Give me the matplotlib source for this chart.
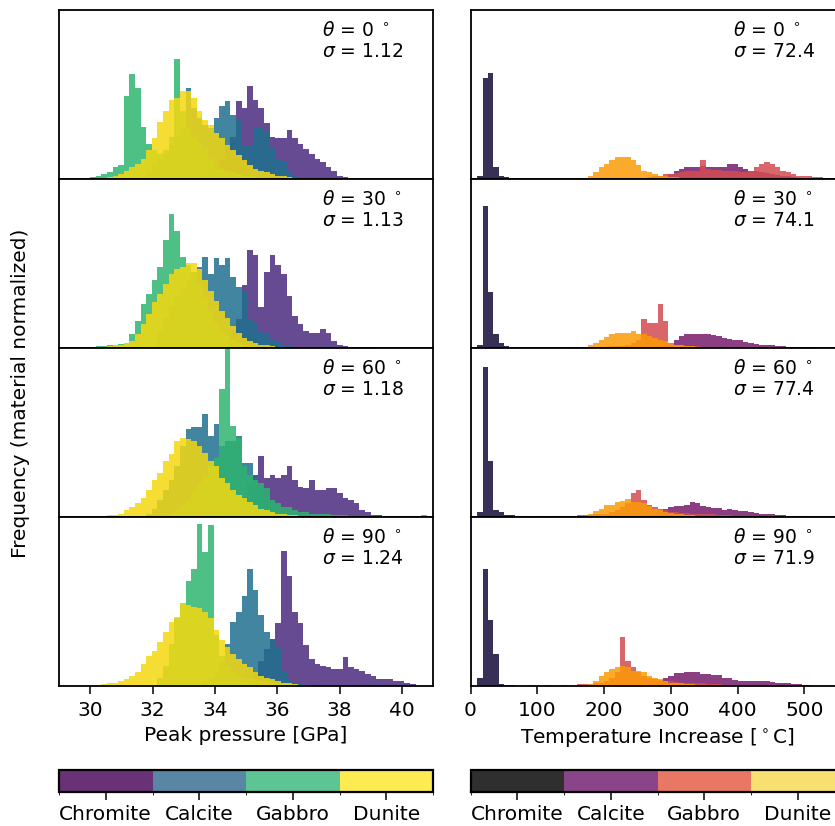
import numpy as np
import matplotlib.pyplot as plt
from matplotlib.colors import ListedColormap, BoundaryNorm
from matplotlib.cm import ScalarMappable

materials = ["Chromite", "Calcite", "Gabbro", "Dunite"]
angles = [0, 30, 60, 90]
sigma_pressure = [1.12, 1.13, 1.18, 1.24]
sigma_temperature = [72.4, 74.1, 77.4, 71.9]

# histogram bin grids (left edge of bin 0, bin width)
p_edge0, p_width = 30.0, 0.18
t_edge0, t_width = 0.0, 8.0
chromite_t_edge0 = 10.0

# ---- Peak pressure, heights per bin (fraction of panel height), (start bin, values)
p0_chromite = (20, [0.03, 0.05, 0.08, 0.12, 0.20, 0.25, 0.46, 0.42, 0.55, 0.47, 0.42, 0.33, 0.25,
                    0.24, 0.24, 0.29, 0.24, 0.21, 0.18, 0.15, 0.12, 0.10, 0.07, 0.05, 0.02, 0.01])
p0_calcite = (10, [0.05, 0.08, 0.12, 0.15, 0.20, 0.25, 0.30, 0.54, 0.42, 0.36, 0.32, 0.30, 0.36, 0.43,
                   0.46, 0.38, 0.35, 0.20, 0.20, 0.30, 0.30, 0.28, 0.19, 0.12, 0.10, 0.05, 0.02, 0.01])
p0_gabbro = (0, [0.01, 0.02, 0.03, 0.04, 0.07, 0.08, 0.49, 0.62, 0.54, 0.31, 0.21, 0.17, 0.15, 0.17, 0.25,
                 0.71, 0.40, 0.30, 0.25, 0.22, 0.18, 0.12, 0.08, 0.06, 0.05, 0.04, 0.03, 0.02, 0.02, 0.01])
p0_dunite = (3, [0.01, 0.02, 0.03, 0.05, 0.07, 0.09, 0.12, 0.17, 0.24, 0.34, 0.40, 0.47, 0.48, 0.52, 0.52,
                 0.48, 0.40, 0.35, 0.32, 0.27, 0.24, 0.20, 0.17, 0.14, 0.11, 0.08, 0.06, 0.05, 0.04, 0.03,
                 0.02, 0.015, 0.01, 0.005])

p1_chromite = (24, [0.05, 0.10, 0.17, 0.37, 0.58, 0.55, 0.24, 0.45, 0.55, 0.49, 0.44, 0.31, 0.19, 0.14,
                    0.10, 0.09, 0.09, 0.11, 0.09, 0.04, 0.02, 0.01, 0.005, 0.005, 0.005, 0.005, 0.005])
p1_calcite = (12, [0.10, 0.18, 0.25, 0.30, 0.35, 0.40, 0.45, 0.48, 0.54, 0.44, 0.53, 0.49, 0.53, 0.42,
                   0.36, 0.33, 0.17, 0.15, 0.10, 0.08, 0.05, 0.04, 0.02, 0.01])
p1_gabbro = (0, [0.005, 0.01, 0.01, 0.015, 0.02, 0.025, 0.03, 0.08, 0.16, 0.26, 0.32, 0.40, 0.48, 0.64,
                 0.79, 0.69, 0.54, 0.49, 0.45, 0.38, 0.30, 0.22, 0.15, 0.10, 0.07, 0.05, 0.03, 0.02, 0.01])
p1_dunite = (0, [0.002, 0.005, 0.008, 0.01, 0.015, 0.02, 0.03, 0.04, 0.08, 0.14, 0.20, 0.27, 0.32, 0.38,
                 0.44, 0.47, 0.48, 0.50, 0.50, 0.47, 0.40, 0.34, 0.28, 0.22, 0.18, 0.13, 0.09, 0.06, 0.04,
                 0.03, 0.02, 0.015, 0.01, 0.005, 0.005, 0.005])

p2_chromite = (24, [0.02, 0.03, 0.06, 0.12, 0.20, 0.25, 0.36, 0.23, 0.25, 0.23, 0.25, 0.30, 0.22, 0.18,
                    0.17, 0.22, 0.16, 0.16, 0.17, 0.17, 0.14, 0.11, 0.10, 0.08, 0.04, 0.03, 0.01, 0.01, 0.005])
p2_calcite = (10, [0.02, 0.05, 0.10, 0.16, 0.22, 0.30, 0.42, 0.52, 0.53, 0.53, 0.61, 0.48, 0.55, 0.42,
                   0.45, 0.45, 0.48, 0.32, 0.32, 0.25, 0.17, 0.12, 0.08, 0.05, 0.03, 0.02])
p2_gabbro = (14, [0.02, 0.04, 0.07, 0.10, 0.15, 0.20, 0.24, 0.30, 0.35, 0.76, 1.00, 0.54, 0.47, 0.30,
                  0.25, 0.22, 0.20, 0.17, 0.10, 0.08, 0.06, 0.06, 0.04, 0.03, 0.03, 0.02, 0.02, 0.02,
                  0.015, 0.01, 0.01, 0.01, 0.005, 0.005, 0.005, 0.005, 0.005, 0.005, 0.005, 0.005,
                  0.005, 0.005, 0.005, 0.005, 0.005, 0.01])
p2_dunite = (0, [0.003, 0.005, 0.008, 0.01, 0.01, 0.02, 0.04, 0.06, 0.08, 0.11, 0.16, 0.22, 0.26, 0.33,
                 0.37, 0.45, 0.47, 0.46, 0.45, 0.42, 0.38, 0.33, 0.30, 0.23, 0.20, 0.16, 0.13, 0.11, 0.09,
                 0.07, 0.05, 0.04, 0.03, 0.02, 0.015, 0.01, 0.01, 0.005])

p3_chromite = (28, [0.03, 0.08, 0.15, 0.22, 0.28, 0.37, 0.80, 0.65, 0.44, 0.37, 0.24, 0.16, 0.13, 0.12,
                    0.11, 0.10, 0.10, 0.17, 0.11, 0.10, 0.09, 0.07, 0.06, 0.04, 0.04, 0.04, 0.03, 0.03,
                    0.02, 0.01])
p3_calcite = (20, [0.03, 0.05, 0.08, 0.14, 0.25, 0.38, 0.44, 0.53, 0.69, 0.57, 0.42, 0.32, 0.28, 0.23,
                   0.08, 0.04, 0.02, 0.01])
p3_gabbro = (12, [0.05, 0.12, 0.25, 0.40, 0.49, 0.62, 0.69, 0.96, 0.79, 0.95, 0.30, 0.18, 0.12, 0.08,
                  0.06, 0.05, 0.04, 0.04, 0.03, 0.03, 0.02, 0.02, 0.015, 0.01, 0.01, 0.008, 0.005, 0.005])
p3_dunite = (0, [0.003, 0.005, 0.01, 0.015, 0.02, 0.03, 0.04, 0.06, 0.08, 0.13, 0.18, 0.21, 0.26, 0.32,
                 0.38, 0.41, 0.49, 0.48, 0.47, 0.46, 0.44, 0.40, 0.33, 0.27, 0.23, 0.19, 0.16, 0.13, 0.11,
                 0.08, 0.06, 0.05, 0.04, 0.03, 0.02, 0.015, 0.01, 0.005, 0.005])

# ---- Temperature increase
t0_chromite = (0, [0.02, 0.60, 0.63, 0.07, 0.02, 0.01, 0.005])
t0_calcite = (33, [0.005, 0.01, 0.015, 0.02, 0.03, 0.05, 0.06, 0.07, 0.07, 0.07, 0.075, 0.07, 0.07, 0.07,
                   0.07, 0.09, 0.09, 0.07, 0.06, 0.05, 0.045, 0.04, 0.035, 0.03, 0.025, 0.02, 0.015, 0.01,
                   0.008, 0.006, 0.005, 0.004, 0.003])
t0_gabbro = (33, [0.01, 0.015, 0.02, 0.03, 0.03, 0.035, 0.04, 0.045, 0.05, 0.05, 0.11, 0.06, 0.055, 0.055,
                  0.05, 0.05, 0.045, 0.04, 0.04, 0.05, 0.07, 0.09, 0.10, 0.09, 0.07, 0.05, 0.04, 0.03, 0.02,
                  0.02, 0.015, 0.01, 0.01, 0.005, 0.005])
t0_dunite = (21, [0.005, 0.02, 0.04, 0.07, 0.09, 0.11, 0.13, 0.13, 0.13, 0.11, 0.08, 0.05, 0.04, 0.03,
                  0.02, 0.015, 0.01, 0.01, 0.008, 0.006, 0.005, 0.004, 0.003])

t1_chromite = (0, [0.02, 0.84, 0.33, 0.08, 0.03, 0.01, 0.005])
t1_calcite = (34, [0.005, 0.01, 0.02, 0.03, 0.05, 0.07, 0.08, 0.085, 0.085, 0.085, 0.08, 0.075, 0.07, 0.06,
                   0.055, 0.05, 0.045, 0.035, 0.03, 0.025, 0.02, 0.02, 0.015, 0.012, 0.01, 0.008, 0.006,
                   0.005, 0.003, 0.003])
t1_gabbro = (19, [0.005, 0.005, 0.0, 0.005, 0.005, 0.005, 0.008, 0.01, 0.01, 0.01, 0.02, 0.03, 0.05, 0.17,
                  0.15, 0.15, 0.26, 0.16, 0.03, 0.02, 0.015, 0.01, 0.01, 0.01, 0.008, 0.008, 0.006, 0.005,
                  0.005, 0.004, 0.003])
t1_dunite = (21, [0.005, 0.015, 0.03, 0.05, 0.065, 0.08, 0.09, 0.09, 0.09, 0.10, 0.08, 0.08, 0.07, 0.06,
                  0.05, 0.04, 0.03, 0.02, 0.015, 0.01, 0.01, 0.008, 0.005])

t2_chromite = (0, [0.03, 0.89, 0.33, 0.04, 0.03, 0.01, 0.01])
t2_calcite = (33, [0.01, 0.02, 0.03, 0.045, 0.06, 0.065, 0.065, 0.07, 0.09, 0.08, 0.065, 0.06, 0.055, 0.055,
                   0.04, 0.045, 0.04, 0.035, 0.035, 0.03, 0.025, 0.02, 0.02, 0.015, 0.012, 0.01, 0.008,
                   0.006, 0.005, 0.003])
t2_gabbro = (5, [0.005, 0.0, 0.008, 0.0, 0.005, 0.0, 0.0, 0.006, 0.005, 0.0, 0.008, 0.0, 0.005, 0.005,
                 0.008, 0.01, 0.01, 0.01, 0.015, 0.02, 0.02, 0.03, 0.04, 0.06, 0.08, 0.14, 0.16, 0.10, 0.07,
                 0.06, 0.05, 0.04, 0.03, 0.03, 0.025, 0.025, 0.02, 0.02, 0.02, 0.015, 0.015, 0.012, 0.01,
                 0.01, 0.008, 0.006, 0.005, 0.004])
t2_dunite = (21, [0.005, 0.02, 0.035, 0.05, 0.07, 0.07, 0.09, 0.095, 0.105, 0.09, 0.09, 0.085, 0.065, 0.05,
                  0.04, 0.03, 0.025, 0.02, 0.015, 0.01, 0.01, 0.008, 0.006])

t3_chromite = (0, [0.05, 0.69, 0.39, 0.19, 0.01, 0.005, 0.005])
t3_calcite = (33, [0.01, 0.02, 0.03, 0.045, 0.06, 0.075, 0.075, 0.08, 0.08, 0.08, 0.07, 0.07, 0.065, 0.065,
                   0.05, 0.05, 0.035, 0.03, 0.03, 0.028, 0.028, 0.03, 0.03, 0.025, 0.02, 0.02, 0.015, 0.012,
                   0.01, 0.005, 0.005])
t3_gabbro = (11, [0.005, 0.0, 0.0, 0.008, 0.0, 0.0, 0.005, 0.0, 0.0, 0.01, 0.01, 0.01, 0.015, 0.02, 0.03,
                  0.05, 0.08, 0.29, 0.15, 0.11, 0.08, 0.06, 0.05, 0.04, 0.035, 0.03, 0.03, 0.025, 0.02,
                  0.02, 0.018, 0.015, 0.015, 0.012, 0.01, 0.01, 0.008, 0.008, 0.006, 0.005, 0.005, 0.004,
                  0.003])
t3_dunite = (22, [0.01, 0.03, 0.06, 0.08, 0.10, 0.11, 0.12, 0.11, 0.09, 0.09, 0.08, 0.06, 0.05, 0.04, 0.03,
                  0.02, 0.02, 0.015, 0.01, 0.01, 0.008, 0.005])

pressure_panels = [
    [p0_chromite, p0_calcite, p0_gabbro, p0_dunite],
    [p1_chromite, p1_calcite, p1_gabbro, p1_dunite],
    [p2_chromite, p2_calcite, p2_gabbro, p2_dunite],
    [p3_chromite, p3_calcite, p3_gabbro, p3_dunite],
]
temperature_panels = [
    [t0_chromite, t0_calcite, t0_gabbro, t0_dunite],
    [t1_chromite, t1_calcite, t1_gabbro, t1_dunite],
    [t2_chromite, t2_calcite, t2_gabbro, t2_dunite],
    [t3_chromite, t3_calcite, t3_gabbro, t3_dunite],
]

pressure_colors = ["#4b2a7f", "#21708f", "#2fb470", "#f5d810"]
temperature_colors = ["#160b39", "#781c6d", "#d34b51", "#fb9b06"]
# colour bars as they appear (already blended)
pressure_cbar_colors = ["#693276", "#5a86a5", "#5dc594", "#fdec51"]
temperature_cbar_colors = ["#2f2f2f", "#8a4589", "#e87763", "#f8e070"]

FS = 14.5


def draw_hist(ax, data, edge0, width, color):
    start, heights = data
    heights = np.array(heights)
    edges = edge0 + width * np.arange(start, start + len(heights) + 1)
    ax.stairs(heights, edges, fill=True, color=color, alpha=0.85, lw=0.8)


W, H = 835, 826
fig = plt.figure(figsize=(W / 100, H / 100), dpi=100)

top = 1 - 10 / H
row_h = 169 / H
left_x, right_x, col_w = 59 / W, 470.5 / W, 374 / W

for r in range(4):
    bottom = top - (r + 1) * row_h
    axL = fig.add_axes([left_x, bottom, col_w, row_h])
    axR = fig.add_axes([right_x, bottom, col_w, row_h])

    for m in range(4):
        draw_hist(axL, pressure_panels[r][m], p_edge0, p_width, pressure_colors[m])
        e0 = chromite_t_edge0 if m == 0 else t_edge0
        draw_hist(axR, temperature_panels[r][m], e0, t_width, temperature_colors[m])

    axL.set_xlim(29, 41)
    axR.set_xlim(0, 560)
    for ax in (axL, axR):
        ax.set_ylim(0, 1)
        ax.set_yticks([])
        for s in ax.spines.values():
            s.set_linewidth(1.3)
        if r < 3:
            ax.tick_params(bottom=False, labelbottom=False)
        else:
            ax.tick_params(labelsize=FS, length=6, width=1.1, pad=5)

    axL.text(0.703, 0.935, r'$\theta$ = %d $^\circ$' % angles[r] + '\n' + r'$\sigma$ = %.2f' % sigma_pressure[r],
             transform=axL.transAxes, ha='left', va='top', fontsize=13.5, linespacing=1.15)
    axR.text(0.703, 0.935, r'$\theta$ = %d $^\circ$' % angles[r] + '\n' + r'$\sigma$ = %.1f' % sigma_temperature[r],
             transform=axR.transAxes, ha='left', va='top', fontsize=13.5, linespacing=1.15)

    if r == 3:
        axL.set_xticks(np.arange(30, 41, 2))
        axR.set_xticks(np.arange(0, 501, 100))
        axL.set_xlabel('Peak pressure [GPa]', fontsize=FS, labelpad=4)
        axR.set_xlabel(r'Temperature Increase [$^\circ$C]', fontsize=FS, labelpad=4)

fig.text(21 / W, 1 - 393 / H, 'Frequency (material normalized)', rotation=90,
         ha='center', va='center', fontsize=FS)

# material colour bars
cb_bottom, cb_h = 1 - 792 / H, 22 / H
for x0, cols in ((left_x, pressure_cbar_colors), (right_x, temperature_cbar_colors)):
    cax = fig.add_axes([x0, cb_bottom, col_w, cb_h])
    sm = ScalarMappable(norm=BoundaryNorm([0, 1, 2, 3, 4], 4), cmap=ListedColormap(cols))
    cb = fig.colorbar(sm, cax=cax, orientation='horizontal', ticks=[0.5, 1.5, 2.5, 3.5])
    cb.set_ticklabels(materials)
    cb.ax.tick_params(labelsize=FS, length=6, width=1.1, pad=3)
    cb.outline.set_linewidth(1.6)

fig.savefig('out.png', dpi=100)
